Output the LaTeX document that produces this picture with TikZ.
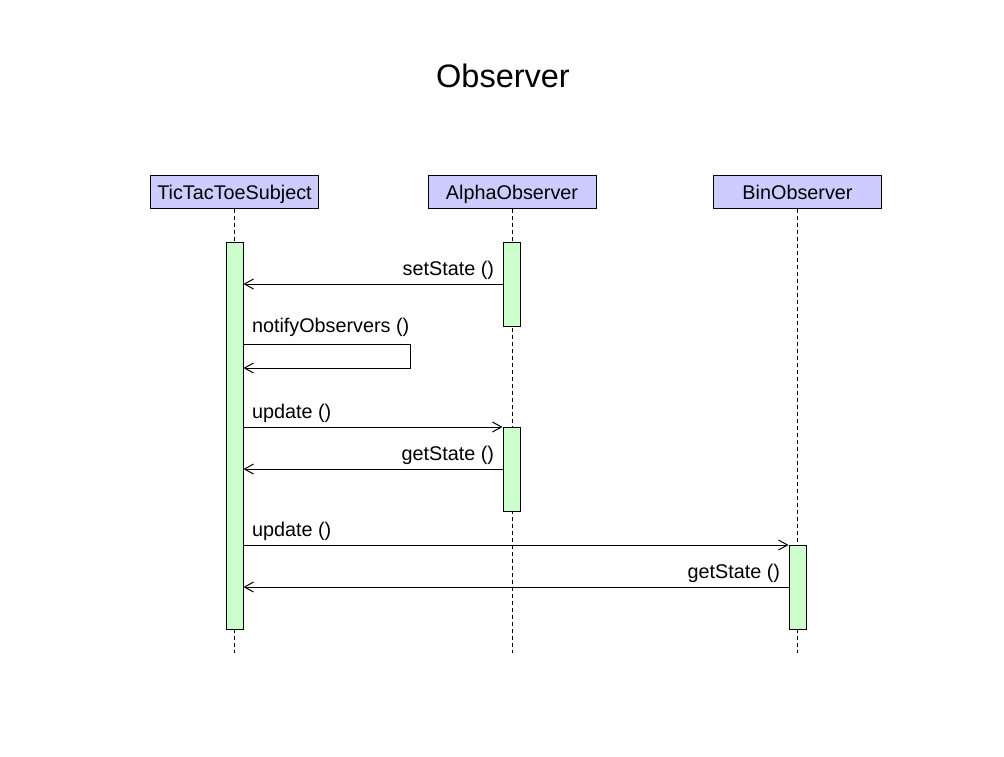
\documentclass[tikz,border=0pt]{standalone}
\usepackage{fontspec}
\setmainfont{Liberation Sans}
\usepackage{tikz}
\usetikzlibrary{arrows.meta,calc}
\definecolor{headblue}{RGB}{204,204,255}
\definecolor{actgreen}{RGB}{204,255,204}
\tikzset{
head/.style={draw,fill=headblue,minimum width=168pt,minimum height=33pt,inner sep=0pt,text height=15pt,text depth=0pt},
act/.style={draw,fill=actgreen,minimum width=17pt,inner sep=0pt,anchor=north},
life/.style={dash pattern=on 4pt off 3pt},
msg/.style={-{Straight Barb[length=9pt,width=10pt]}},
lbl/.style={inner sep=0pt}
}
\begin{document}
\begin{tikzpicture}[x=1pt,y=-1pt,line width=1pt,font=\fontsize{19.8}{23}\selectfont]
\useasboundingbox (0,0) rectangle (1004,756);
\node (title) at (503,87) [anchor=base,font=\fontsize{32.5}{38}\selectfont] {Observer};
\node (subj) at (234.5,191.5) [head] {TicTacToeSubject};
\node (alpha) at (512,191.5) [head] {AlphaObserver};
\node (bin) at (797.5,191.5) [head] {BinObserver};

\draw[life] (subj.south) -- (subj.south |- 0,653);
\draw[life] (alpha.south) -- (alpha.south |- 0,653);
\draw[life] (bin.south) -- (bin.south |- 0,653);

\node (sbar) at (234.5,242) [act,minimum height=387pt] {};
\node (abar1) at (511.5,242) [act,minimum height=84pt] {};
\node (abar2) at (511.5,427) [act,minimum height=84pt] {};
\node (bbar) at (797.5,545) [act,minimum height=84pt] {};

\draw[msg] (abar1.west |- 0,284) -- (sbar.east |- 0,284)
  node[lbl,pos=0,anchor=base east,xshift=-8pt,yshift=9pt] (m1) {setState ()};
\draw[msg] (sbar.east |- 0,344) -- ++(167,0) -- ++(0,24) -- (sbar.east |- 0,368);
\node (m2) at ($(sbar.east |- 0,344)+(8,-12)$) [lbl,anchor=base west] {notifyObservers ()};
\draw[msg] (sbar.east |- abar2.north west) -- (abar2.north west)
  node[lbl,pos=0,anchor=base west,xshift=8pt,yshift=9pt] (m3) {update ()};
\draw[msg] (abar2.west |- 0,469) -- (sbar.east |- 0,469)
  node[lbl,pos=0,anchor=base east,xshift=-8pt,yshift=9pt] (m4) {getState ()};
\draw[msg] (sbar.east |- bbar.north west) -- (bbar.north west)
  node[lbl,pos=0,anchor=base west,xshift=8pt,yshift=9pt] (m5) {update ()};
\draw[msg] (bbar.west |- 0,587) -- (sbar.east |- 0,587)
  node[lbl,pos=0,anchor=base east,xshift=-8pt,yshift=9pt] (m6) {getState ()};

\end{tikzpicture}
\end{document}
